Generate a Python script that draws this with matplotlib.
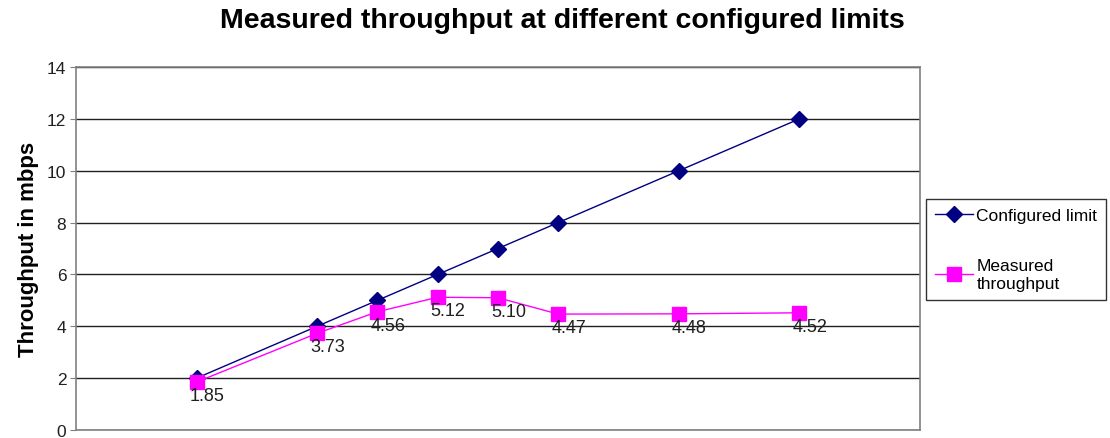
import matplotlib.pyplot as plt

# === Datos ===
configured = [2, 4, 5, 6, 7, 8, 10, 12]
limit_values = [2, 4, 5, 6, 7, 8, 10, 12]
measured = [1.85, 3.73, 4.56, 5.12, 5.10, 4.47, 4.48, 4.52]
y_ticks = [0, 2, 4, 6, 8, 10, 12, 14]

plt.rcParams['font.family'] = ['Liberation Sans', 'DejaVu Sans']

fig = plt.figure(figsize=(11.1, 4.39), dpi=100)
ax = fig.add_axes([76 / 1110, 8 / 439, 844 / 1110, 363 / 439])

ax.plot(configured, limit_values, color='#000080', linewidth=1, marker='D',
        markersize=8.5, label='Configured limit', zorder=3)
ax.plot(configured, measured, color='#FF00FF', linewidth=1, marker='s',
        markersize=10, label='Measured\nthroughput', zorder=4)

for x, y in zip(configured, measured):
    ax.annotate(f"{y:.2f}", (x, y), xytext=(-7, -5), textcoords='offset pixels',
                ha='left', va='top', fontsize=13, color='#202020', zorder=5)

ax.set_xlim(0, 14)
ax.set_ylim(0, 14)
ax.set_yticks(y_ticks)
ax.set_xticks([])
ax.tick_params(axis='y', direction='out', length=4, color='#808080',
               labelsize=12.5, labelcolor='#202020', pad=3)
ax.yaxis.grid(True, color='#202020', linewidth=1)
ax.set_axisbelow(True)
for side in ['top', 'right', 'bottom', 'left']:
    ax.spines[side].set_color('#808080')
    ax.spines[side].set_linewidth(1.2)

ax.set_ylabel("Throughput in mbps", fontsize=16, fontweight='bold', labelpad=6)
fig.text(562 / 1110, 1 - 21 / 439, "Measured throughput at different configured limits",
         ha='center', va='center', fontsize=20.5, fontweight='bold')

leg = fig.legend(loc='upper left', bbox_to_anchor=(926 / 1110, 1 - 200 / 439),
                 fontsize=12.5, frameon=True, fancybox=False, edgecolor='black',
                 borderpad=0.5, borderaxespad=0, labelspacing=2.0,
                 handlelength=2.2, handletextpad=0.2)
leg.get_frame().set_linewidth(1)
for t in leg.get_texts():
    t.set_linespacing(1.3)

plt.savefig("out.png", dpi=100)
